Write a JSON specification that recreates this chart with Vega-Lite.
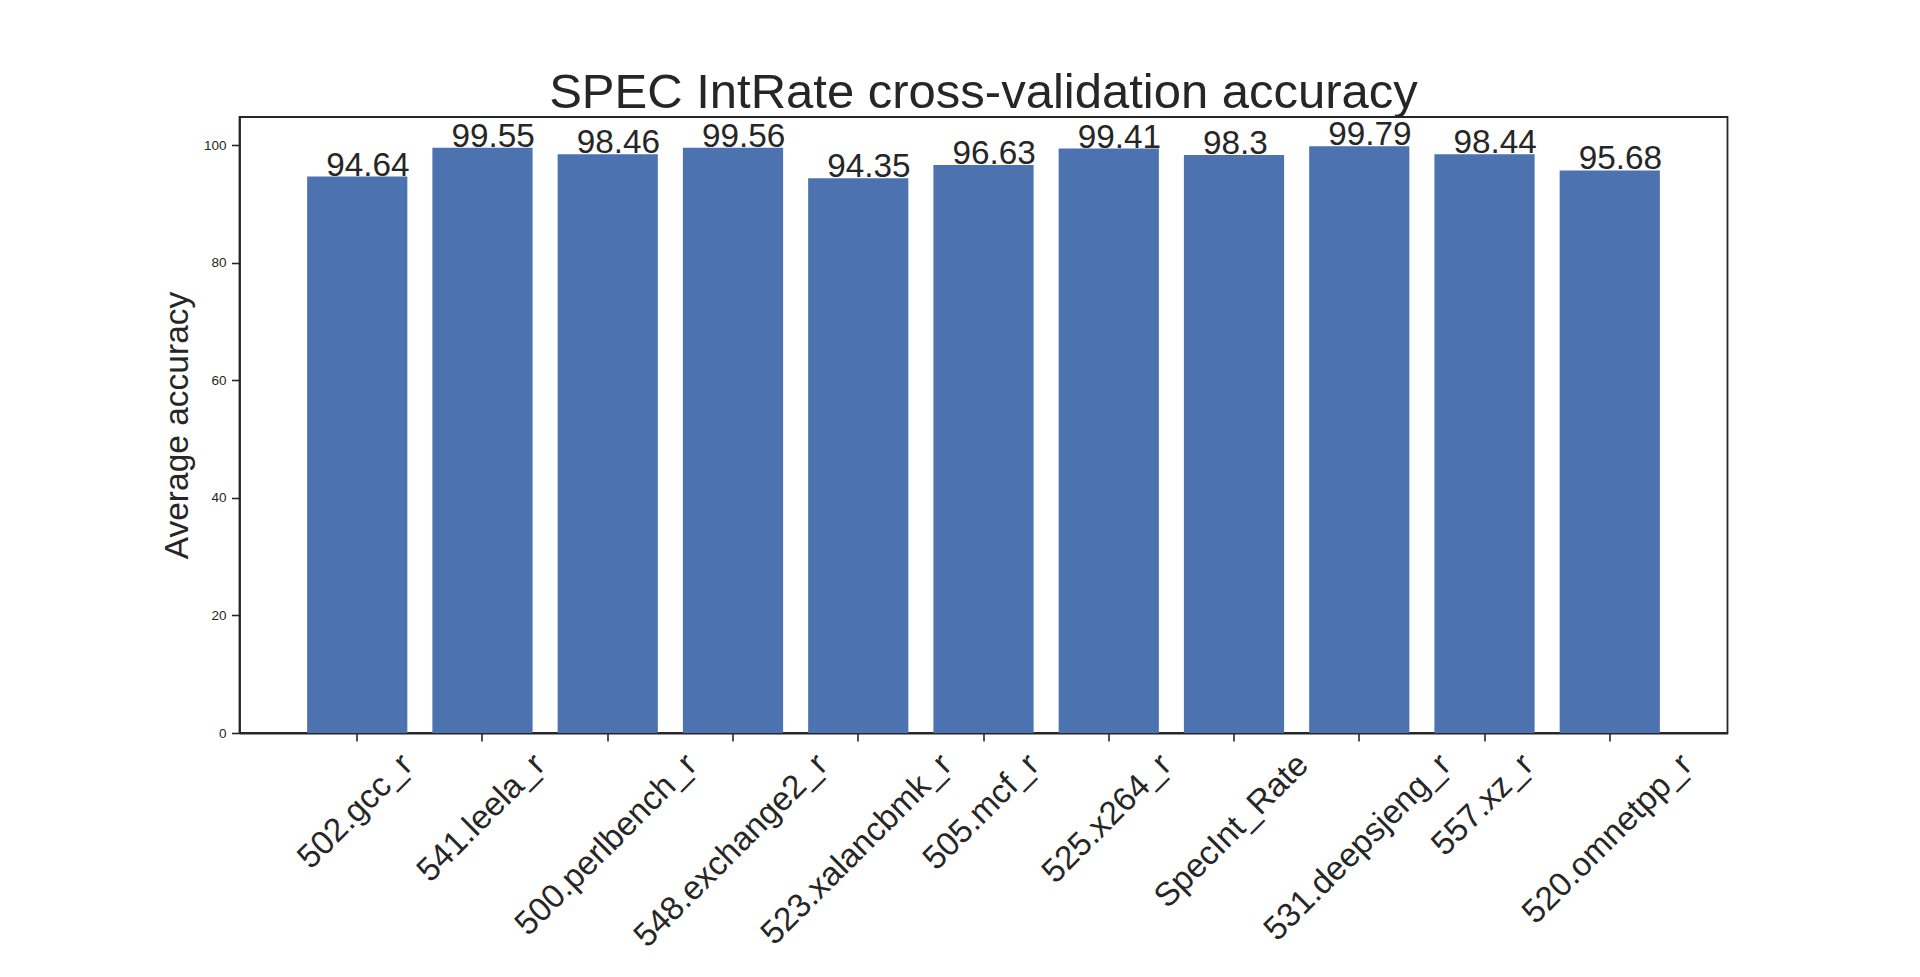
{
  "$schema": "https://vega.github.io/schema/vega-lite/v6.json",
  "autosize": {"type": "none"},
  "padding": {"left": 239.5, "top": 117, "right": 192.5, "bottom": 244},
  "width": 1488,
  "height": 616,
  "background": "white",
  "config": {
    "font": "Liberation Sans",
    "view": {"stroke": "#262626", "strokeWidth": 1.8}
  },
  "title": {
    "text": "SPEC IntRate cross-validation accuracy",
    "fontSize": 49,
    "fontWeight": "normal",
    "color": "#262626",
    "anchor": "middle",
    "frame": "group",
    "baseline": "alphabetic",
    "offset": -40
  },
  "data": {
    "values": [
      {"benchmark": "502.gcc_r", "accuracy": 94.64},
      {"benchmark": "541.leela_r", "accuracy": 99.55},
      {"benchmark": "500.perlbench_r", "accuracy": 98.46},
      {"benchmark": "548.exchange2_r", "accuracy": 99.56},
      {"benchmark": "523.xalancbmk_r", "accuracy": 94.35},
      {"benchmark": "505.mcf_r", "accuracy": 96.63},
      {"benchmark": "525.x264_r", "accuracy": 99.41},
      {"benchmark": "SpecInt_Rate", "accuracy": 98.3},
      {"benchmark": "531.deepsjeng_r", "accuracy": 99.79},
      {"benchmark": "557.xz_r", "accuracy": 98.44},
      {"benchmark": "520.omnetpp_r", "accuracy": 95.68}
    ]
  },
  "encoding": {
    "x": {
      "field": "benchmark",
      "type": "nominal",
      "sort": null,
      "scale": {"paddingInner": 0.2, "paddingOuter": 0.54},
      "axis": {
        "title": null,
        "labelAngle": -45,
        "labelAlign": "right",
        "labelBaseline": "top",
        "labelFontSize": 33.3,
        "labelColor": "#262626",
        "labelPadding": 7,
        "labelLimit": 0,
        "labelOverlap": false,
        "labelBound": false,
        "labelOffset": {"expr": "11.77*(0.556*length(datum.value) - 0.306*(length(datum.value)-length(replace(datum.value, regexp('[il.tfjI]','g'), ''))) - 0.223*(length(datum.value)-length(replace(datum.value, regexp('r','g'), ''))) - 0.056*(length(datum.value)-length(replace(datum.value, regexp('[cxsvkyz]','g'), ''))) + 0.277*(length(datum.value)-length(replace(datum.value, regexp('m','g'), ''))) + 0.14*(length(datum.value)-length(replace(datum.value, regexp('[SR]','g'), '')))) - 12.7"},
        "tickSize": 8,
        "tickWidth": 1.6,
        "tickColor": "#262626",
        "domainColor": "#262626",
        "domainWidth": 1.8,
        "grid": false
      }
    },
    "y": {
      "field": "accuracy",
      "type": "quantitative",
      "scale": {"domain": [0, 104.78], "nice": false, "zero": true},
      "axis": {
        "title": "Average accuracy",
        "titleFontSize": 33.5,
        "titleFontWeight": "normal",
        "titleColor": "#262626",
        "titlePadding": 9,
        "values": [0, 20, 40, 60, 80, 100],
        "labelFontSize": 13.5,
        "labelColor": "#262626",
        "labelPadding": 5.5,
        "tickSize": 8,
        "tickWidth": 1.6,
        "tickColor": "#262626",
        "domainColor": "#262626",
        "domainWidth": 1.8,
        "grid": false
      }
    }
  },
  "layer": [
    {
      "mark": {"type": "bar", "color": "#4C72B0"}
    },
    {
      "mark": {
        "type": "text",
        "align": "left",
        "baseline": "alphabetic",
        "dx": -31,
        "dy": -1,
        "fontSize": 33.3,
        "color": "#262626"
      },
      "encoding": {
        "text": {"field": "accuracy", "type": "nominal"}
      }
    }
  ]
}
